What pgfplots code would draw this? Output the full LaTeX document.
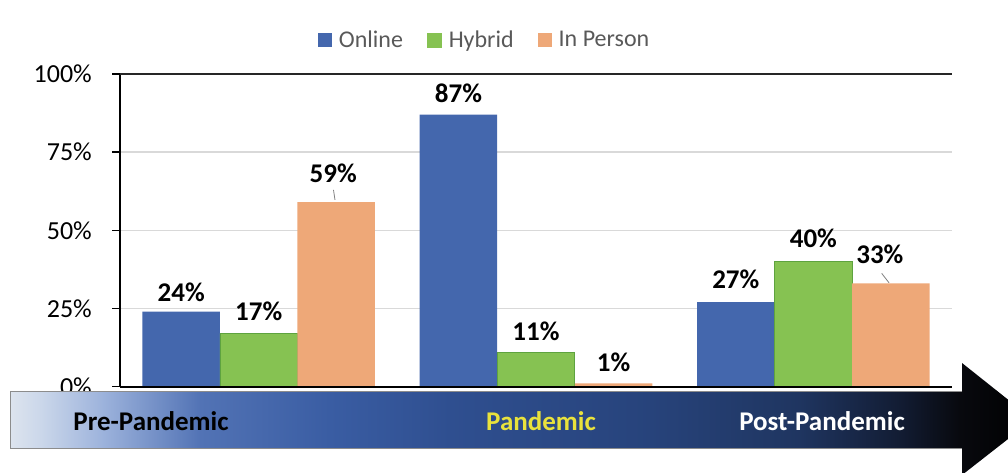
\documentclass[border=0pt]{standalone}
\usepackage{pgfplots}
\pgfplotsset{compat=1.18}
\usepackage{pgfplotstable}
\usepackage{fontspec}
\setmainfont{Carlito}

\definecolor{onlineblue}{HTML}{4467AD}
\definecolor{hybridgreen}{HTML}{86C252}
\definecolor{hybridedge}{HTML}{5EA33F}
\definecolor{personorange}{HTML}{EEA878}
\definecolor{gridgray}{HTML}{D9D9D9}
\definecolor{legendgray}{HTML}{595959}
\definecolor{labelyellow}{HTML}{E9E23C}

% colour stops of the timeline arrow, light on the left, black at the tip
\definecolor{tlA}{HTML}{DDE4EE}
\definecolor{tlB}{HTML}{CBD7EA}
\definecolor{tlC}{HTML}{9DB3DC}
\definecolor{tlD}{HTML}{5273B5}
\definecolor{tlE}{HTML}{3A5DA3}
\definecolor{tlF}{HTML}{2F4F90}
\definecolor{tlG}{HTML}{27437B}
\definecolor{tlH}{HTML}{1F3560}
\definecolor{tlI}{HTML}{121C33}
\definecolor{tlJ}{HTML}{08090E}
\definecolor{tlK}{HTML}{000000}
\pgfdeclarehorizontalshading{timeline}{100bp}{%
  color(0bp)=(tlA); color(25bp)=(tlA); color(26.5bp)=(tlB);
  color(29.5bp)=(tlC); color(34.3bp)=(tlD); color(40.6bp)=(tlE);
  color(46.5bp)=(tlF); color(56.3bp)=(tlG); color(63.6bp)=(tlH);
  color(68.5bp)=(tlI); color(71.4bp)=(tlJ); color(75bp)=(tlK);
  color(100bp)=(tlK)}

% shares by period (x: 0 pre, 1 during, 2 post); dx/dy place the value labels
\pgfplotstableread{
x y dx dy
0 24 0 10
1 87 0 12
2 27 0 14
}\online
\pgfplotstableread{
x y dx dy
0 17 0 13
1 11 0 12
2 40 0 14
}\hybrid
\pgfplotstableread{
x y dx dy
0 59 -3 20
1 1 0 12
2 33 -11 20
}\inperson

\pgfplotsset{
  periodbar/.style={
    draw=none, fill=#1,
    legend image code/.code={\fill[#1] (0pt,-7pt) rectangle (14pt,7pt);
      \path (21pt,0pt);},
    visualization depends on={\thisrow{dx} \as \dx},
    visualization depends on={\thisrow{dy} \as \dy},
    nodes near coords={\pgfmathprintnumber{\pgfplotspointmeta}\%},
    every node near coord/.append style={
      anchor=base, inner sep=0pt, xshift=\dx*1pt, yshift=\dy*1pt,
      font=\fontsize{27}{32}\selectfont\bfseries, text=black,
      /pgf/number format/assume math mode=true},
  },
}

\begin{document}
\begin{tikzpicture}
\useasboundingbox (0pt,0pt) rectangle (1008pt,472pt);
\begin{axis}[
  at={(120pt,85.5pt)}, anchor=south west,
  scale only axis, width=832pt, height=312.5pt,
  ybar=0pt, bar width=0.2795,
  xmin=-0.5, xmax=2.5, ymin=0, ymax=100,
  xtick=\empty,
  ytick={0,25,50,75,100},
  yticklabels={0\%,25\%,50\%,75\%,100\%},
  yticklabel style={font=\fontsize{26}{31}\selectfont, inner sep=0pt,
    text=black, xshift=-20pt},
  ytick pos=left, tick align=outside, major tick length=8pt,
  tick style={black, line width=1.5pt},
  ymajorgrids, grid style={gridgray, line width=1.5pt},
  axis line style={draw=none},
  clip=false,
  legend columns=3,
  legend style={at={(0.437,1.109)}, anchor=center, draw=none, fill=none,
    font=\fontsize{24}{28}\selectfont, text=legendgray,
    nodes={inner sep=0pt},
    /tikz/every even column/.append style={column sep=24pt}},
]
\addplot[periodbar=onlineblue] table[x=x,y=y] {\online};
\addplot[periodbar=hybridgreen, draw=hybridedge, line width=0.8pt] table[x=x,y=y] {\hybrid};
\addplot[periodbar=personorange] table[x=x,y=y] {\inperson};
\legend{Online,Hybrid,In Person}

% frame: left and bottom axis lines, heavier line at 100%
\draw[black, line width=2pt] (axis cs:-0.5,0) -- (axis cs:-0.5,100);
\draw[black, line width=2pt] (axis cs:-0.5,0) -- (axis cs:2.5,0);
\draw[black!85, line width=2.5pt] (axis cs:-0.5,100) -- (axis cs:2.5,100);
% leader lines of the shifted labels
\draw[gray, line width=0.8pt] (axis cs:0.2698,62.9) -- (axis cs:0.2752,59.7);
\draw[gray, line width=0.8pt] (axis cs:2.2465,36.2) -- (axis cs:2.2728,33.2);
\end{axis}

% timeline arrow under the chart
\shade[shading=timeline] (10pt,81pt) -- (962pt,81pt) -- (962pt,109pt)
  -- (1033pt,52.5pt) -- (962pt,-3pt) -- (962pt,24pt) -- (10pt,24pt) -- cycle;
\draw[black!45, line width=0.8pt] (962pt,81pt) -- (10pt,81pt) -- (10pt,24pt)
  -- (962pt,24pt);
\node[anchor=base, font=\fontsize{27}{32}\selectfont\bfseries, text=black]
  at (151pt,42pt) {Pre-Pandemic};
\node[anchor=base, font=\fontsize{27}{32}\selectfont\bfseries, text=labelyellow]
  at (541pt,42pt) {Pandemic};
\node[anchor=base, font=\fontsize{27}{32}\selectfont\bfseries, text=white]
  at (822pt,42pt) {Post-Pandemic};
\end{tikzpicture}
\end{document}
